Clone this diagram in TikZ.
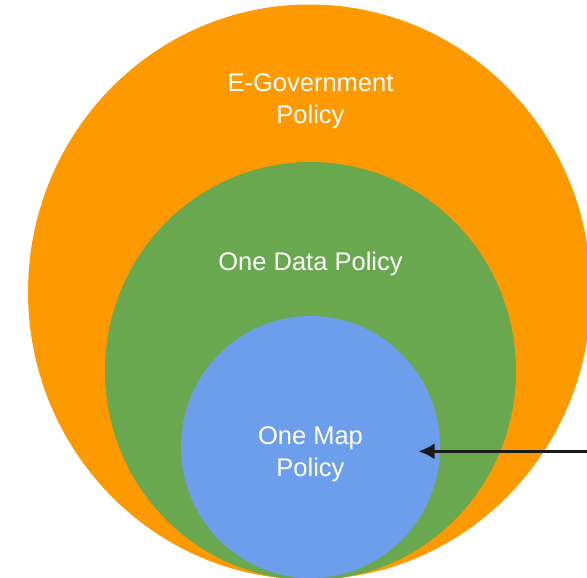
\documentclass[tikz,border=0pt]{standalone}
\usepackage{fontspec}
\usetikzlibrary{arrows.meta,shapes.geometric}
\setmainfont{Liberation Sans}
\definecolor{orangeC}{HTML}{FF9900}
\definecolor{greenC}{HTML}{6AA84F}
\definecolor{blueC}{HTML}{6D9EEB}
\definecolor{arrowC}{HTML}{1A1A1A}
\begin{document}
\begin{tikzpicture}[x=1pt,y=-1pt,
  disc/.style={ellipse,inner sep=0pt,draw=none},
  lab/.style={text=white,font=\fontsize{25.5}{32}\selectfont,align=center}]
\useasboundingbox (0,0) rectangle (587,578);
\node[disc,fill=orangeC,minimum width=563pt,minimum height=575pt] (outer) at (309.5,292) {};
\node[disc,fill=greenC,minimum width=411pt,minimum height=418pt] (mid) at (310.5,371) {};
\node[disc,fill=blueC,minimum width=259pt,minimum height=262pt] (inner) at (310.5,447) {};
\node[lab] (l1) at (310.5,101.5) {E-Government\\Policy};
\node[lab] (l2) at (310.5,264) {One Data Policy};
\node[lab] (l3) at (310.5,454.5) {One Map\\Policy};
\coordinate (free) at (587,451.3);
\coordinate (tip) at (418.5,451.3);
\draw[arrowC,line width=2.5pt,-{Latex[length=16pt,width=16pt]}] (free) -- (tip);
\end{tikzpicture}
\end{document}
